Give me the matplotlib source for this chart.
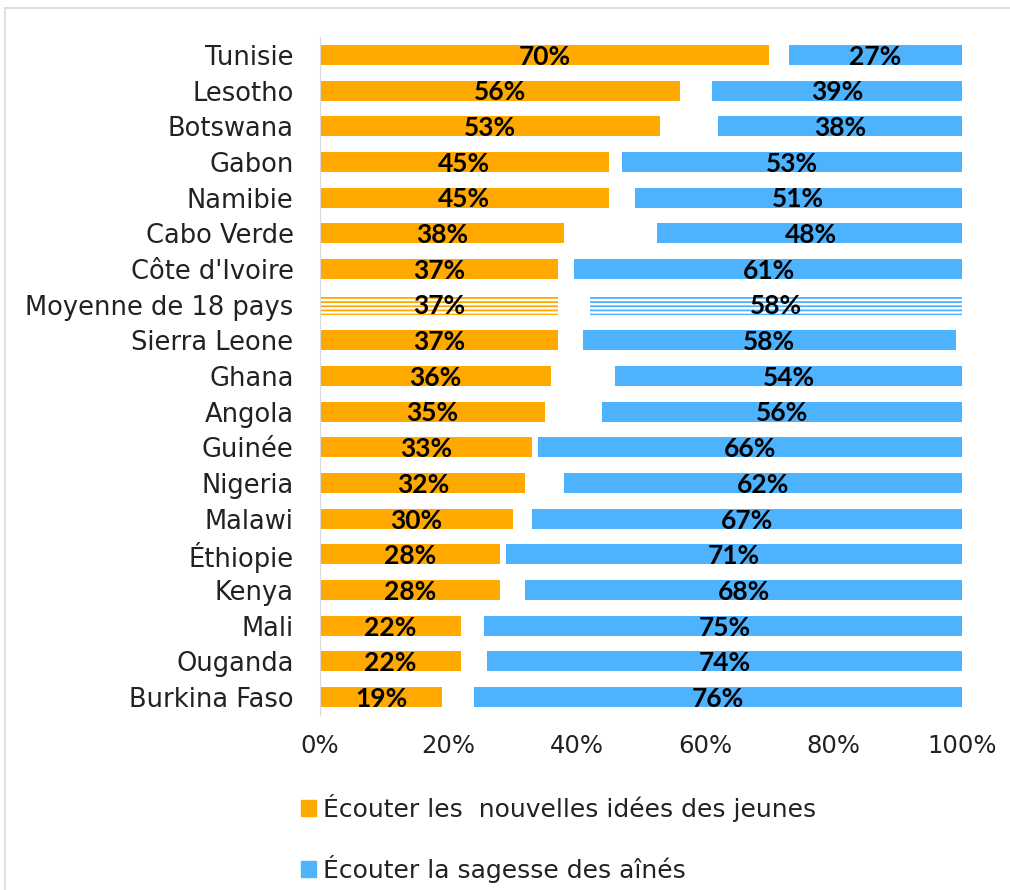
import matplotlib.pyplot as plt
from matplotlib.patches import Patch
from matplotlib.lines import Line2D

plt.rcParams['font.family'] = ['DejaVu Sans']
plt.rcParams['hatch.linewidth'] = 1.3

pays = ["Tunisie", "Lesotho", "Botswana", "Gabon", "Namibie", "Cabo Verde",
        "Côte d'Ivoire", "Moyenne de 18 pays", "Sierra Leone", "Ghana", "Angola",
        "Guinée", "Nigeria", "Malawi", "Éthiopie", "Kenya", "Mali", "Ouganda",
        "Burkina Faso"]
jeunes = [70, 56, 53, 45, 45, 38, 37, 37, 37, 36, 35, 33, 32, 30, 28, 28, 22, 22, 19]
# part non affichée (ni l'un ni l'autre / ne sait pas)
autre = [3, 5, 9, 2, 4, 14.5, 2.5, 5, 4, 10, 9, 1, 6, 3, 1, 4, 3.5, 4, 5]
aines = [27, 39, 38, 53, 51, 48, 61, 58, 58, 54, 56, 66, 62, 67, 71, 68, 75, 74, 76]

orange = "#FFA800"
bleu = "#4DB3FF"

fig = plt.figure(figsize=(10.1, 8.9), dpi=100)
ax = fig.add_axes([320 / 1010, 1 - 715 / 890, 642 / 1010, 678 / 890])

y = list(range(len(pays)))
h = 0.56
moy = pays.index("Moyenne de 18 pays")

for i in y:
    if i == moy:
        ax.barh(i, jeunes[i], height=h, color="white", edgecolor=orange,
                hatch="----", linewidth=0)
        ax.barh(i, aines[i], left=jeunes[i] + autre[i], height=h, color="white",
                edgecolor=bleu, hatch="----", linewidth=0)
    else:
        ax.barh(i, jeunes[i], height=h, color=orange)
        ax.barh(i, aines[i], left=jeunes[i] + autre[i], height=h, color=bleu)
    ax.text(jeunes[i] / 2, i + 0.05, f"{jeunes[i]}%", ha="center", va="center",
            fontsize=19, fontweight="bold", family="Lato")
    ax.text(jeunes[i] + autre[i] + aines[i] / 2, i + 0.05, f"{aines[i]}%",
            ha="center", va="center", fontsize=19, fontweight="bold", family="Lato")

ax.set_xlim(0, 100)
ax.set_ylim(len(pays) - 0.5, -0.5)
ax.set_yticks(y)
ax.set_yticklabels(pays, fontsize=18.5, color="#222222")
ax.set_xticks(range(0, 101, 20))
ax.set_xticklabels([f"{v}%" for v in range(0, 101, 20)], fontsize=17.5,
                   color="#222222")
ax.tick_params(axis="y", length=0, pad=19)
ax.tick_params(axis="x", length=0, pad=14)
for s in ["top", "right", "bottom"]:
    ax.spines[s].set_visible(False)
ax.spines["left"].set_color("#D9D9D9")

handles = [Patch(color=orange), Patch(color=bleu)]
fig.legend(handles, ["Écouter les  nouvelles idées des jeunes",
                     "Écouter la sagesse des aînés"],
           loc="upper left", bbox_to_anchor=(288 / 1010, 1 - 781 / 890),
           frameon=False, fontsize=18, handlelength=0.6, handleheight=0.6,
           handletextpad=0.3, labelspacing=1.33, borderpad=0,
           labelcolor="#222222")

# cadre du graphique
fig.add_artist(Line2D([5 / 1010, 5 / 1010], [0, 1 - 8 / 890], color="#D9D9D9", lw=1.2))
fig.add_artist(Line2D([5 / 1010, 1.02], [1 - 8 / 890, 1 - 8 / 890], color="#D9D9D9", lw=1.2))

fig.savefig("out.png", dpi=100)
